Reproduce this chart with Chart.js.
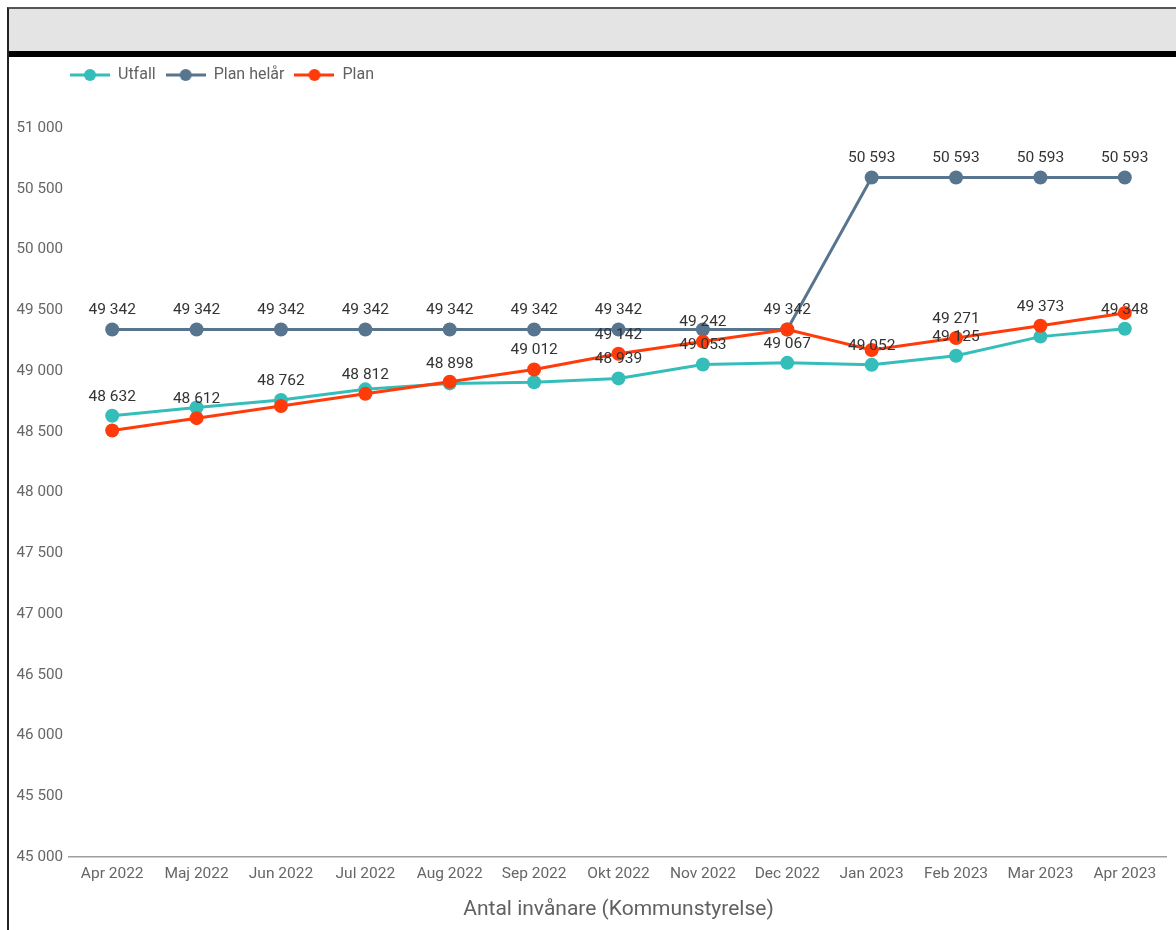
<!DOCTYPE html>
<html>
<head>
<meta charset="utf-8">
<script src="https://cdn.jsdelivr.net/npm/chart.js@4/dist/chart.umd.min.js"></script>
<style>
  html, body { margin: 0; padding: 0; width: 1176px; height: 930px; overflow: hidden; background: #fff; font-family: Roboto, sans-serif; }
  #frame { position: absolute; left: 7px; top: 7px; width: 1200px; height: 960px; border-left: 2px solid #222; border-top: 2px solid #555; box-sizing: border-box; }
  #header { height: 42px; background: #e4e4e4; border-bottom: 6px solid #000; }
  #wrap { position: absolute; left: 9px; top: 57px; width: 1167px; height: 873px; }
</style>
</head>
<body>
<div id="frame"><div id="header"></div></div>
<div id="wrap"><canvas id="c"></canvas></div>
<script>
const categories = ['Apr 2022','Maj 2022','Jun 2022','Jul 2022','Aug 2022','Sep 2022','Okt 2022','Nov 2022','Dec 2022','Jan 2023','Feb 2023','Mar 2023','Apr 2023'];
const utfall    = [48632, 48700, 48762, 48849, 48898, 48907, 48939, 49053, 49067, 49052, 49125, 49283, 49348];
const planHelar = [49342, 49342, 49342, 49342, 49342, 49342, 49342, 49342, 49342, 50593, 50593, 50593, 50593];
const plan      = [48510, 48612, 48712, 48812, 48912, 49012, 49142, 49242, 49342, 49173, 49271, 49373, 49478];
// which value labels are visible (overlapping ones hidden as in the original)
const utfallLabels    = [1,0,1,0,1,0,1,1,1,1,1,0,1];
const planHelarLabels = [1,1,1,1,1,1,1,0,1,1,1,1,1];
const planLabels      = [0,1,0,1,0,1,1,1,0,0,1,1,0];
const yTicks = { min: 45000, max: 51000, step: 500 };
const axisTitle = 'Antal invånare (Kommunstyrelse)';

const COLORS = { utfall: '#35beb9', helar: '#58758f', plan: '#ff3b0a' };

function fmt(v) { return String(v).replace(/\B(?=(\d{3})+(?!\d))/g, ' '); }

function legendIcon(color) {
  const c = document.createElement('canvas');
  c.width = 40; c.height = 14;
  const g = c.getContext('2d');
  g.strokeStyle = color; g.lineWidth = 3;
  g.beginPath(); g.moveTo(0, 7); g.lineTo(40, 7); g.stroke();
  g.fillStyle = color;
  g.beginPath(); g.arc(20, 7, 6, 0, Math.PI * 2); g.fill();
  return c;
}

const valueLabels = {
  id: 'valueLabels',
  afterDatasetsDraw(chart) {
    const ctx = chart.ctx;
    ctx.save();
    ctx.font = '15.5px Roboto';
    ctx.fillStyle = '#333333';
    ctx.textAlign = 'center';
    ctx.textBaseline = 'middle';
    chart.data.datasets.forEach((ds, di) => {
      const meta = chart.getDatasetMeta(di);
      meta.data.forEach((pt, i) => {
        if (!ds.showLabel[i]) return;
        ctx.fillText(fmt(ds.data[i]), pt.x, pt.y - 19);
      });
    });
    ctx.restore();
  }
};

const legendPlace = {
  id: 'legendPlace',
  beforeInit(chart) {
    const lg = chart.legend;
    const orig = lg.fit;
    lg.fit = function () { orig.call(this); this.height = 71; };
  },
  afterLayout(chart) {
    chart.legend.left = 51;
  }
};

function mkDataset(label, data, color, showLabel, order) {
  return {
    label, data, showLabel, order,
    borderColor: color, backgroundColor: color,
    borderWidth: 3, pointRadius: 7, pointHoverRadius: 7,
    pointBorderWidth: 0, pointBackgroundColor: color,
    tension: 0, fill: false
  };
}

new Chart(document.getElementById('c'), {
  type: 'line',
  data: {
    labels: categories,
    datasets: [
      mkDataset('Utfall', utfall, COLORS.utfall, utfallLabels, 1),
      mkDataset('Plan helår', planHelar, COLORS.helar, planHelarLabels, 2),
      mkDataset('Plan', plan, COLORS.plan, planLabels, 0)
    ]
  },
  plugins: [valueLabels, legendPlace],
  options: {
    responsive: true,
    maintainAspectRatio: false,
    animation: false,
    layout: { padding: { left: 0, right: 9, top: 0, bottom: 0 } },
    plugins: {
      tooltip: { enabled: false },
      legend: {
        position: 'top',
        align: 'start',
        labels: {
          usePointStyle: true,
          pointStyleWidth: 40,
          padding: 10,
          color: '#616161',
          font: { family: 'Roboto', size: 16 },
          generateLabels(chart) {
            return chart.data.datasets.map((ds, i) => ({
              text: ds.label,
              fillStyle: ds.borderColor,
              strokeStyle: ds.borderColor,
              fontColor: '#616161',
              lineWidth: 0,
              pointStyle: legendIcon(ds.borderColor),
              hidden: false,
              datasetIndex: i
            }));
          }
        }
      }
    },
    scales: {
      x: {
        offset: true,
        grid: { display: false, drawTicks: false, tickLength: 0 },
        border: { display: false },
        ticks: { color: '#666666', font: { family: 'Roboto', size: 15.5 }, padding: 8, maxRotation: 0, autoSkip: false },
        title: { display: true, text: axisTitle, color: '#616161', font: { family: 'Roboto', size: 21 }, padding: { top: 0, bottom: 7.5 } },
        afterFit(scale) { scale.height = 73; }
      },
      y: {
        min: yTicks.min, max: yTicks.max,
        border: { display: false },
        grid: {
          color: c => (c.tick && c.tick.value === yTicks.min) ? '#9e9e9e' : 'rgba(0,0,0,0)',
          lineWidth: 1.5,
          tickLength: 2
        },
        ticks: {
          stepSize: yTicks.step,
          color: '#666666',
          font: { family: 'Roboto', size: 15.2 },
          padding: 5,
          callback: v => fmt(v)
        },
        afterFit(scale) { scale.width = 61; }
      }
    }
  }
});
</script>
</body>
</html>
